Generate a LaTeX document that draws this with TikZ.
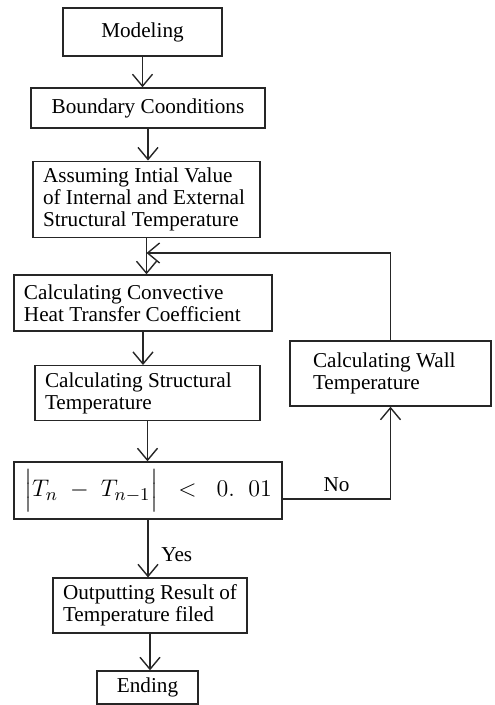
\documentclass[tikz,border=0pt]{standalone}
\usepackage{amsmath}
\usepackage{fontspec}
\setmainfont{Liberation Serif}
\usepackage{tikz}
\usetikzlibrary{arrows.meta,positioning}
\tikzstyle{stage} = [draw=black!85, line width=0.7pt, rectangle, inner xsep=5pt, align=flush left]
\tikzstyle{plain} = [draw=black!85, line width=0.7pt, rectangle, align=center]
\tikzstyle{link} = [->, draw=black!85, line width=0.7pt]

\begin{document}
\begin{tikzpicture}[auto, x=0.5pt, y=-0.5pt, >={Straight Barb[length=6pt,width=10pt]},
  font=\fontsize{10.6}{11}\selectfont]
\useasboundingbox (0,0) rectangle (494,705);

\node [plain, minimum width=79.5pt, minimum height=24pt] (model) at (142.5,32) {Modeling};
\node [plain, minimum width=117pt, minimum height=20pt] (bound) at (148,108) {Boundary Coonditions};
\node [stage, text width=103.5pt, minimum height=36.5pt] (assume) at (146.5,199.5) {Assuming Intial Value\\of Internal and External\\Structural Temperature};
\node [stage, text width=119pt, minimum height=28pt] (conv) at (143,303) {Calculating Convective\\Heat Transfer Coefficient};
\node [stage, text width=102.5pt, minimum height=25pt] (struct) at (147.5,393) {Calculating Structural\\Temperature};
\node [stage, inner xsep=11.5pt, text width=77.5pt, minimum height=32.5pt] (wall) at (390.5,373.5) {Calculating Wall\\Temperature};
\node [plain, minimum width=134pt, minimum height=28.5pt, font=\fontsize{13}{15}\selectfont] (cond) at (148,490.5) {$\left|\rule[-5pt]{0pt}{19pt}T_{n}\;-\;T_{n-1}\right|\;\;<\;\;0.\;\;01$};
\node [stage, text width=87pt, minimum height=26.5pt] (output) at (150,605.5) {Outputting Result of\\Temperature filed};
\node [plain, minimum width=50.5pt, minimum height=16.5pt] (ending) at (147.5,687.5) {Ending};

\coordinate (merge) at (146.5,253);

\draw [link] (model.south) -- (model.south |- bound.north);
\draw [link] (bound.south) -- (bound.south |- assume.north);
\draw [link] (assume.south) -- (assume.south |- conv.north);
\draw [link] (wall.north) |- (merge);
\draw [link] (conv.south) -- (conv.south |- struct.north);
\draw [link] (struct.south) -- (struct.south |- cond.north);
\draw [link] ([yshift=-4.25pt]cond.east) -| node [pos=0.25, above] {No} (wall.south);
\draw [link] (cond.south) -- node [pos=0.6, right, xshift=3pt] {Yes} (cond.south |- output.north);
\draw [link] (output.south) -- (output.south |- ending.north);
\end{tikzpicture}
\end{document}
